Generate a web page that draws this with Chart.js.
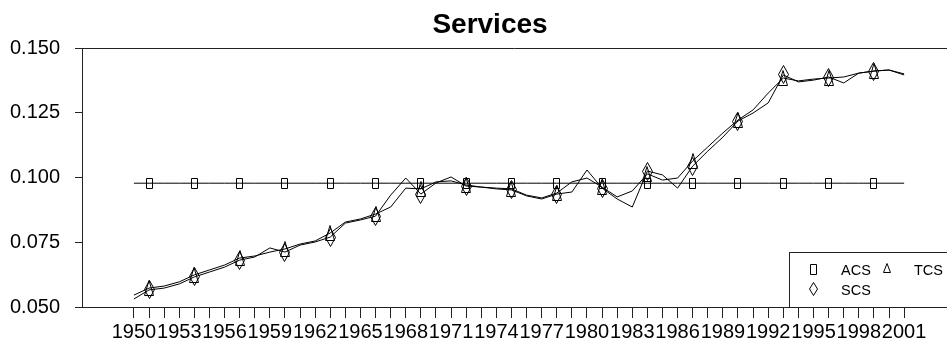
<!DOCTYPE html>
<html>
<head>
<meta charset="utf-8">
<title>Services</title>
<script src="https://cdn.jsdelivr.net/npm/chart.js@4.4.1/dist/chart.umd.min.js"></script>
<style>
  html, body { margin: 0; padding: 0; background: #fff; }
  #wrap { width: 947px; height: 345px; }
</style>
</head>
<body>
<div id="wrap"><canvas id="servicesChart" width="947" height="345"></canvas></div>
<script>
var years = [
  1950, 1951, 1952, 1953, 1954, 1955, 1956, 1957, 1958, 1959,
  1960, 1961, 1962, 1963, 1964, 1965, 1966, 1967, 1968, 1969,
  1970, 1971, 1972, 1973, 1974, 1975, 1976, 1977, 1978, 1979,
  1980, 1981, 1982, 1983, 1984, 1985, 1986, 1987, 1988, 1989,
  1990, 1991, 1992, 1993, 1994, 1995, 1996, 1997, 1998, 1999,
  2000, 2001
];

var acs = [
  0.0978, 0.0978, 0.0978, 0.0978, 0.0978, 0.0978, 0.0978, 0.0978, 0.0978, 0.0978,
  0.0978, 0.0978, 0.0978, 0.0978, 0.0978, 0.0978, 0.0978, 0.0978, 0.0978, 0.0978,
  0.0978, 0.0978, 0.0978, 0.0978, 0.0978, 0.0978, 0.0978, 0.0978, 0.0978, 0.0978,
  0.0978, 0.0978, 0.0978, 0.0978, 0.0978, 0.0978, 0.0978, 0.0978, 0.0978, 0.0978,
  0.0978, 0.0978, 0.0978, 0.0978, 0.0978, 0.0978, 0.0978, 0.0978, 0.0978, 0.0978,
  0.0978, 0.0978
];

var scs = [
  0.0531, 0.0566, 0.0573, 0.0589, 0.0616, 0.0635, 0.0654, 0.0681, 0.0693, 0.0728,
  0.0712, 0.0739, 0.0751, 0.0770, 0.0824, 0.0836, 0.0851, 0.0932, 0.0998, 0.0936,
  0.0979, 0.1002, 0.0967, 0.0963, 0.0956, 0.0952, 0.0929, 0.0917, 0.0936, 0.0944,
  0.1029, 0.0959, 0.0917, 0.0886, 0.1025, 0.1010, 0.0959, 0.1044, 0.1102, 0.1156,
  0.1218, 0.1249, 0.1288, 0.1396, 0.1369, 0.1376, 0.1388, 0.1365, 0.1403, 0.1411,
  0.1415, 0.1396
];

var tcs = [
  0.0546, 0.0573, 0.0581, 0.0597, 0.0624, 0.0643, 0.0662, 0.0689, 0.0697, 0.0712,
  0.0724, 0.0743, 0.0755, 0.0786, 0.0828, 0.0840, 0.0859, 0.0886, 0.0959, 0.0956,
  0.0983, 0.0987, 0.0971, 0.0963, 0.0959, 0.0956, 0.0932, 0.0921, 0.0940, 0.0983,
  0.0998, 0.0963, 0.0925, 0.0948, 0.1014, 0.0990, 0.0998, 0.1064, 0.1118, 0.1172,
  0.1222, 0.1261, 0.1326, 0.1384, 0.1373, 0.1380, 0.1384, 0.1388, 0.1403, 0.1411,
  0.1415, 0.1400
];

var yTicks = [0.050, 0.075, 0.100, 0.125, 0.150];

var FONT = '"Liberation Sans", Arial, Helvetica, sans-serif';
Chart.defaults.font.family = FONT;
Chart.defaults.color = '#000';

// open plotting symbols drawn on small canvases (box, diamond, triangle)
function symbol(w, h, path) {
  var c = document.createElement('canvas');
  c.width = w + 2;
  c.height = h + 2;
  var g = c.getContext('2d');
  g.strokeStyle = '#000';
  g.lineWidth = 1;
  g.beginPath();
  path(g, c.width, c.height);
  g.stroke();
  return c;
}
function box(g, w, h) { g.rect(1.5, 1.5, w - 3, h - 3); }
function diamond(g, w, h) {
  g.moveTo(w / 2, 0.5); g.lineTo(w - 0.5, h / 2);
  g.lineTo(w / 2, h - 0.5); g.lineTo(0.5, h / 2); g.closePath();
}
function triangle(g, w, h) {
  g.moveTo(w / 2, 0.5); g.lineTo(w - 0.5, h - 0.5);
  g.lineTo(0.5, h - 0.5); g.closePath();
}

var boxMark = symbol(7, 11, box);
var diamondMark = symbol(9, 17, diamond);
var triangleMark = symbol(8, 14, triangle);
var keyDiamond = symbol(7, 12, diamond);
var keyTriangle = symbol(6, 8, triangle);

function points(vals) {
  return years.map(function (y, i) { return { x: y, y: vals[i] }; });
}

// symbols every third year, starting 1951
function every3(ctx) { return ctx.dataIndex % 3 === 1 ? 4 : 0; }

function series(label, vals, mark) {
  return {
    label: label,
    data: points(vals),
    borderColor: '#000',
    borderWidth: 1,
    tension: 0,
    fill: false,
    pointStyle: mark,
    pointRadius: every3,
    pointHoverRadius: every3
  };
}

var frameTitleKey = {
  id: 'frameTitleKey',
  beforeDatasetsDraw: function (chart) {
    // keep the symbol bitmaps sharp at fractional positions
    chart.ctx.imageSmoothingEnabled = false;
  },
  afterDraw: function (chart) {
    var ctx = chart.ctx;
    var a = chart.chartArea;
    ctx.save();

    // top edge of the plot box
    ctx.strokeStyle = '#222';
    ctx.lineWidth = 1;
    ctx.beginPath();
    ctx.moveTo(a.left, Math.round(a.top) + 0.5);
    ctx.lineTo(chart.width, Math.round(a.top) + 0.5);
    ctx.stroke();

    // title
    ctx.fillStyle = '#000';
    ctx.font = 'bold 28px ' + FONT;
    ctx.textAlign = 'center';
    ctx.textBaseline = 'alphabetic';
    ctx.fillText('Services', 490, 33);

    // key box, bottom right
    var kx = 789, ky = 252;
    ctx.strokeRect(kx + 0.5, ky + 0.5, chart.width, a.bottom - ky);
    ctx.imageSmoothingEnabled = false;
    ctx.drawImage(boxMark, kx + 20, ky + 11);
    ctx.drawImage(keyTriangle, kx + 94, ky + 11);
    ctx.drawImage(keyDiamond, kx + 20, ky + 30);
    ctx.font = '14.5px ' + FONT;
    ctx.textAlign = 'left';
    ctx.fillText('ACS', kx + 52, ky + 23);
    ctx.fillText('TCS', kx + 125, ky + 23);
    ctx.fillText('SCS', kx + 52, ky + 43);

    ctx.restore();
  }
};

new Chart(document.getElementById('servicesChart'), {
  type: 'line',
  data: {
    datasets: [
      series('ACS', acs, boxMark),
      series('SCS', scs, diamondMark),
      series('TCS', tcs, triangleMark)
    ]
  },
  options: {
    responsive: false,
    animation: false,
    events: [],
    layout: { padding: { top: 48, left: 0, right: 0, bottom: 0 } },
    plugins: {
      legend: { display: false },
      title: { display: false },
      tooltip: { enabled: false }
    },
    scales: {
      x: {
        type: 'linear',
        min: 1946.56,
        max: 2003.84,
        afterBuildTicks: function (s) {
          s.ticks = years.map(function (v) { return { value: v }; });
        },
        afterFit: function (s) { s.height = 38; },
        grid: { drawOnChartArea: false, tickLength: 11, color: '#222' },
        border: { color: '#222' },
        ticks: {
          autoSkip: false,
          maxRotation: 0,
          minRotation: 0,
          padding: 2,
          color: '#000',
          font: { size: 20 },
          callback: function (v) { return (v - 1950) % 3 === 0 ? String(v) : ''; }
        }
      },
      y: {
        min: 0.05,
        max: 0.15,
        afterBuildTicks: function (s) {
          s.ticks = yTicks.map(function (v) { return { value: v }; });
        },
        afterFit: function (s) { s.width = 82; },
        grid: { drawOnChartArea: false, tickLength: 7, color: '#222' },
        border: { color: '#222' },
        ticks: {
          padding: 15,
          color: '#000',
          font: { size: 20 },
          callback: function (v) { return v.toFixed(3); }
        }
      }
    }
  },
  plugins: [frameTitleKey]
});
</script>
</body>
</html>
